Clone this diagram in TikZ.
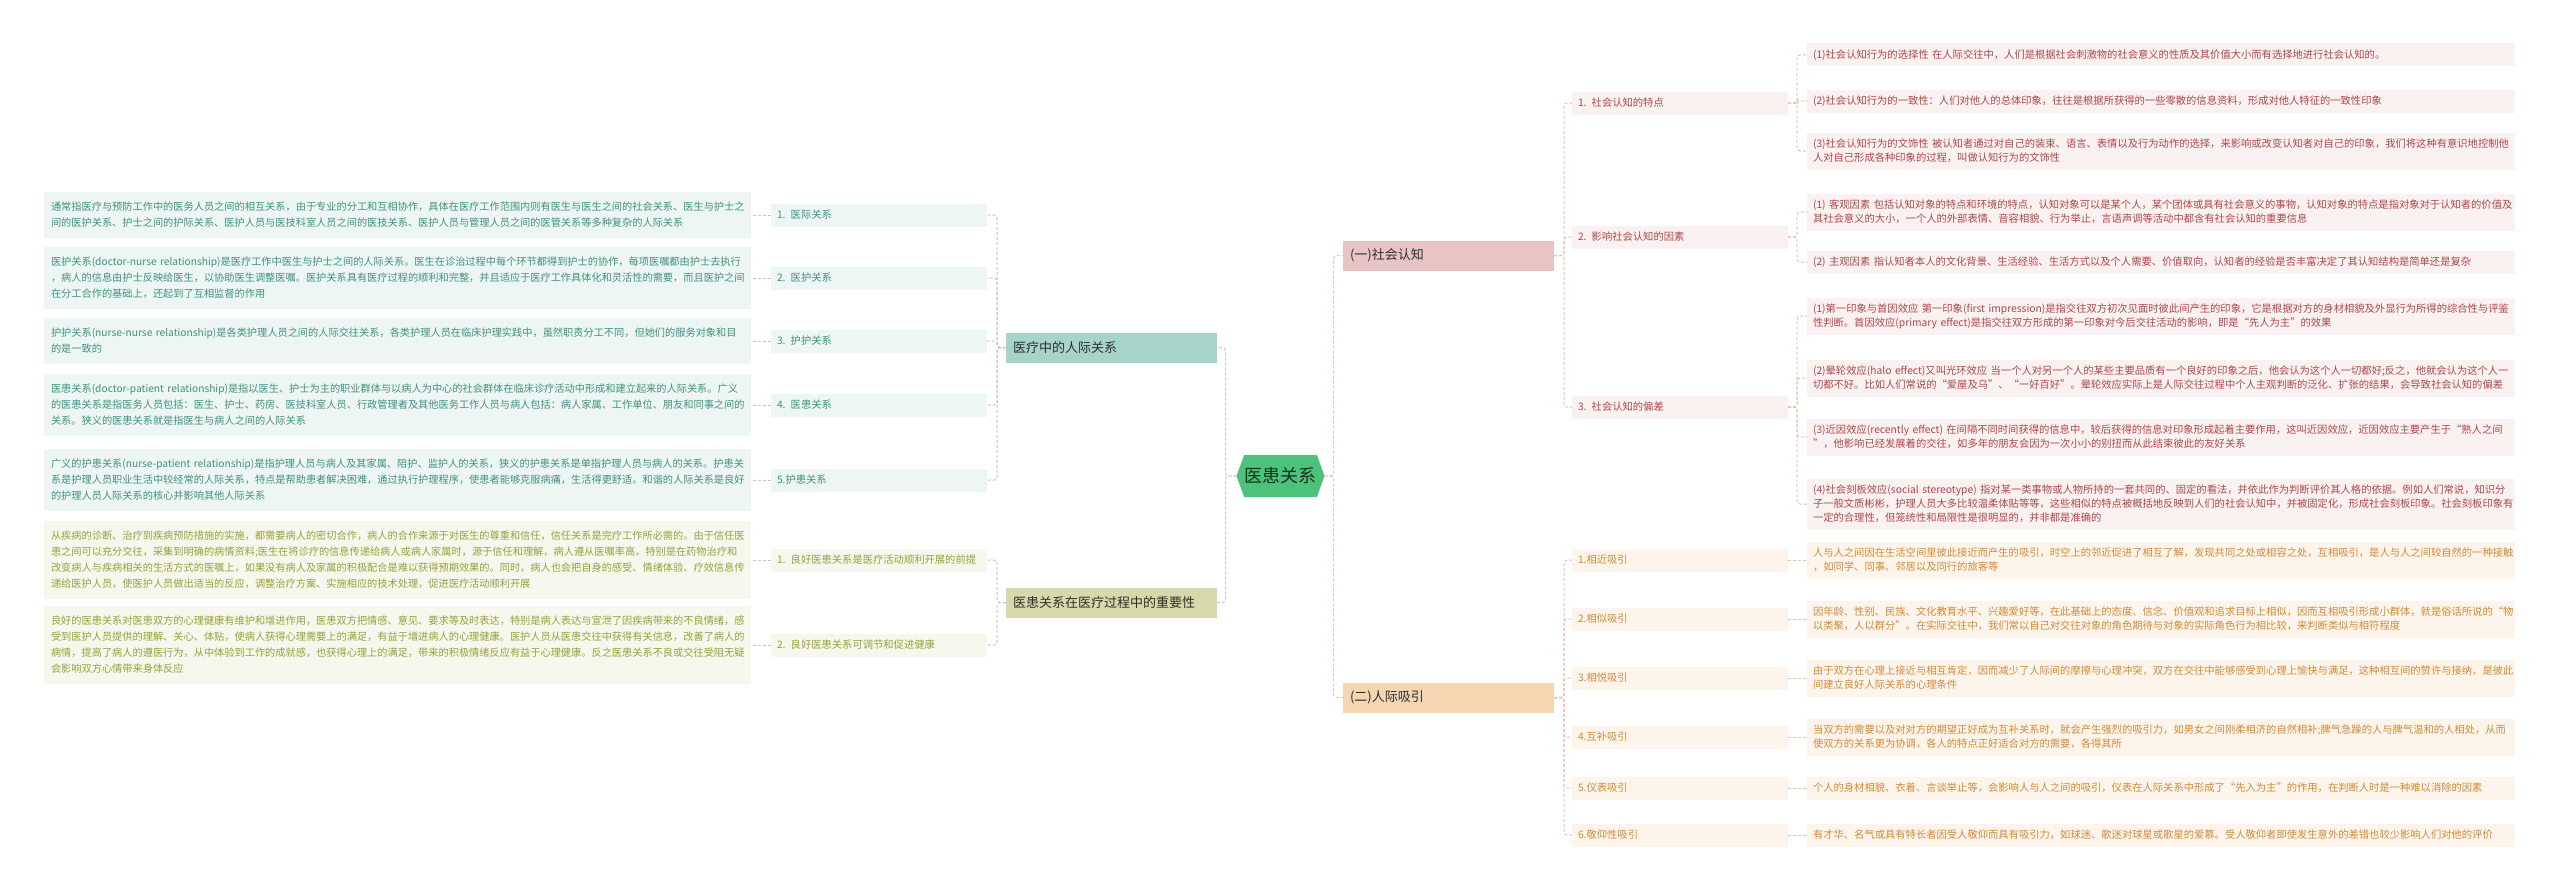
\documentclass[tikz,border=0pt]{standalone}
\usepackage{fontspec}
\setmainfont{Noto Sans CJK SC}
\usetikzlibrary{shapes.symbols}
\definecolor{tealfill}{HTML}{A7D4C9}
\definecolor{tealbg}{HTML}{EEF6F4}
\definecolor{tealtx}{HTML}{3F9080}
\definecolor{olivefill}{HTML}{D6D9AA}
\definecolor{olivebg}{HTML}{F6F7ED}
\definecolor{olivetx}{HTML}{97A13A}
\definecolor{pinkfill}{HTML}{E8C4C4}
\definecolor{pinkbg}{HTML}{FAF1F1}
\definecolor{redtx}{HTML}{AE474C}
\definecolor{peachfill}{HTML}{F6D5B1}
\definecolor{peachbg}{HTML}{FDF5EC}
\definecolor{orangetx}{HTML}{D18A38}
\definecolor{rootfill}{HTML}{4CC27D}
\definecolor{roottx}{HTML}{17321F}
\definecolor{darktx}{HTML}{2E2E2E}
\definecolor{lline}{HTML}{C6C6C6}
\definecolor{rline}{HTML}{E6C2B4}
\tikzset{
  every node/.style={inner sep=0pt, outer sep=0pt},
  lbox/.style={font=\fontsize{10.2}{16}\selectfont, align=left, anchor=east, text width=693pt, inner xsep=7pt},
  rbox/.style={font=\fontsize{10.3}{14}\selectfont, align=left, anchor=west, text width=696pt, inner xsep=6pt},
  boxA/.style={lbox, fill=tealbg, text=tealtx},
  boxB/.style={lbox, fill=olivebg, text=olivetx},
  boxC/.style={rbox, fill=pinkbg, text=redtx},
  boxD/.style={rbox, fill=peachbg, text=orangetx},
  lvtwo/.style={font=\fontsize{10.3}{12}\selectfont, anchor=west, text width=204pt, inner xsep=6pt, align=left, minimum height=23pt},
  twoA/.style={lvtwo, fill=tealbg, text=tealtx},
  twoB/.style={lvtwo, fill=olivebg, text=olivetx},
  twoC/.style={lvtwo, fill=pinkbg, text=redtx},
  twoD/.style={lvtwo, fill=peachbg, text=orangetx},
  lvone/.style={font=\fontsize{13}{15}\selectfont, anchor=west, text width=197pt, inner xsep=7pt, align=left, minimum height=30pt, text=darktx},
  oneA/.style={lvone, fill=tealfill},
  oneB/.style={lvone, fill=olivefill},
  oneC/.style={lvone, fill=pinkfill},
  oneD/.style={lvone, fill=peachfill},
  rootnode/.style={shape=signal, signal to=east and west, signal pointer angle=140, minimum width=88pt, minimum height=42pt, fill=rootfill, text=roottx, font=\fontsize{18}{20}\selectfont},
  lconn/.style={draw=lline, line width=1pt, dash pattern=on 3pt off 2pt, rounded corners=3pt},
  rconn/.style={draw=rline, line width=1pt, dash pattern=on 3pt off 2pt, rounded corners=3pt}
}
\begin{document}
\begin{tikzpicture}[x=1pt,y=-1pt]
\useasboundingbox (0,0) rectangle (2560,891);
\fill[white] (0,0) rectangle (2560,891);

% root
\node[rootnode] (root) at (1280.5,476) {医患关系};

% left level 1
\node[oneA] (A) at (1006,347.5) {医疗中的人际关系};
\node[oneB] (B) at (1006,602.5) {医患关系在医疗过程中的重要性};

% left level 2
\node[twoA] (a1) at (771,215) {1. 医际关系};
\node[twoA] (a2) at (771,278) {2. 医护关系};
\node[twoA] (a3) at (771,341) {3. 护护关系};
\node[twoA] (a4) at (771,405) {4. 医患关系};
\node[twoA] (a5) at (771,480) {5.护患关系};
\node[twoB] (b1) at (771,560) {1. 良好医患关系是医疗活动顺利开展的前提};
\node[twoB] (b2) at (771,645) {2. 良好医患关系可调节和促进健康};

% left text boxes
\node[boxA, minimum height=46pt] (ta1) at (751,215) {\mbox{通常指医疗与预防工作中的医务人员之间的相互关系，由于专业的分工和互相协作，具体在医疗工作范围内则有医生与医生之间的社会关系、医生与护士之}\\\mbox{间的医护关系、护士之间的护际关系、医护人员与医技科室人员之间的医技关系、医护人员与管理人员之间的医管关系等多种复杂的人际关系}};
\node[boxA, minimum height=62pt] (ta2) at (751,278) {\mbox{医护关系(doctor-nurse relationship)是医疗工作中医生与护士之间的人际关系。医生在诊治过程中每个环节都得到护士的协作，每项医嘱都由护士去执行}\\\mbox{，病人的信息由护士反映给医生，以协助医生调整医嘱。医护关系具有医疗过程的顺利和完整，并且适应于医疗工作具体化和灵活性的需要，而且医护之间}\\\mbox{在分工合作的基础上，还起到了互相监督的作用}};
\node[boxA, minimum height=46pt] (ta3) at (751,341) {\mbox{护护关系(nurse-nurse relationship)是各类护理人员之间的人际交往关系，各类护理人员在临床护理实践中，虽然职责分工不同，但她们的服务对象和目}\\\mbox{的是一致的}};
\node[boxA, minimum height=62pt] (ta4) at (751,405) {\mbox{医患关系(doctor-patient relationship)是指以医生、护士为主的职业群体与以病人为中心的社会群体在临床诊疗活动中形成和建立起来的人际关系。广义}\\\mbox{的医患关系是指医务人员包括：医生、护士、药房、医技科室人员、行政管理者及其他医务工作人员与病人包括：病人家属、工作单位、朋友和同事之间的}\\\mbox{关系。狭义的医患关系就是指医生与病人之间的人际关系}};
\node[boxA, minimum height=62pt] (ta5) at (751,480) {\mbox{广义的护患关系(nurse-patient relationship)是指护理人员与病人及其家属、陪护、监护人的关系，狭义的护患关系是单指护理人员与病人的关系。护患关}\\\mbox{系是护理人员职业生活中较经常的人际关系，特点是帮助患者解决困难，通过执行护理程序，使患者能够克服病痛，生活得更舒适。和谐的人际关系是良好}\\\mbox{的护理人员人际关系的核心并影响其他人际关系}};
\node[boxB, minimum height=78pt] (tb1) at (751,560) {\mbox{从疾病的诊断、治疗到疾病预防措施的实施，都需要病人的密切合作，病人的合作来源于对医生的尊重和信任，信任关系是完疗工作所必需的。由于信任医}\\\mbox{患之间可以充分交往，采集到明确的病情资料;医生在将诊疗的信息传递给病人或病人家属时，源于信任和理解，病人遵从医嘱率高，特别是在药物治疗和}\\\mbox{改变病人与疾病相关的生活方式的医嘱上，如果没有病人及家属的积极配合是难以获得预期效果的。同时，病人也会把自身的感受、情绪体验、疗效信息传}\\\mbox{递给医护人员，使医护人员做出适当的反应，调整治疗方案、实施相应的技术处理，促进医疗活动顺利开展}};
\node[boxB, minimum height=78pt] (tb2) at (751,645) {\mbox{良好的医患关系对医患双方的心理健康有维护和增进作用，医患双方把情感、意见、要求等及时表达，特别是病人表达与宣泄了因疾病带来的不良情绪，感}\\\mbox{受到医护人员提供的理解、关心、体贴，使病人获得心理需要上的满足，有益于增进病人的心理健康。医护人员从医患交往中获得有关信息，改善了病人的}\\\mbox{病情，提高了病人的遵医行为，从中体验到工作的成就感，也获得心理上的满足，带来的积极情绪反应有益于心理健康。反之医患关系不良或交往受阻无疑}\\\mbox{会影响双方心情带来身体反应}};

% right level 1
\node[oneC] (C) at (1343,255.5) {(一)社会认知};
\node[oneD] (D) at (1343,697.5) {(二)人际吸引};

% right level 2
\node[twoC] (c1) at (1572,103) {1. 社会认知的特点};
\node[twoC] (c2) at (1572,237) {2. 影响社会认知的因素};
\node[twoC] (c3) at (1572,407) {3. 社会认知的偏差};
\node[twoD] (d1) at (1572,560) {1.相近吸引};
\node[twoD] (d2) at (1572,619) {2.相似吸引};
\node[twoD] (d3) at (1572,678) {3.相悦吸引};
\node[twoD] (d4) at (1572,737) {4.互补吸引};
\node[twoD] (d5) at (1572,788) {5.仪表吸引};
\node[twoD] (d6) at (1572,835) {6.敬仰性吸引};

% right text boxes
\node[boxC, minimum height=23pt] (tc1a) at (1807,55) {\mbox{(1)社会认知行为的选择性 在人际交往中，人们是根据社会刺激物的社会意义的性质及其价值大小而有选择地进行社会认知的。}};
\node[boxC, minimum height=23pt] (tc1b) at (1807,101) {\mbox{(2)社会认知行为的一致性：人们对他人的总体印象，往往是根据所获得的一些零散的信息资料，形成对他人特征的一致性印象}};
\node[boxC, minimum height=37pt] (tc1c) at (1807,151) {\mbox{(3)社会认知行为的文饰性 被认知者通过对自己的装束、语言、表情以及行为动作的选择，来影响或改变认知者对自己的印象，我们将这种有意识地控制他}\\\mbox{人对自己形成各种印象的过程，叫做认知行为的文饰性}};
\node[boxC, minimum height=37pt] (tc2a) at (1807,212) {\mbox{(1) 客观因素 包括认知对象的特点和环境的特点，认知对象可以是某个人，某个团体或具有社会意义的事物，认知对象的特点是指对象对于认知者的价值及}\\\mbox{其社会意义的大小，一个人的外部表情、音容相貌、行为举止，言语声调等活动中都含有社会认知的重要信息}};
\node[boxC, minimum height=23pt] (tc2b) at (1807,262) {\mbox{(2) 主观因素 指认知者本人的文化背景、生活经验、生活方式以及个人需要、价值取向，认知者的经验是否丰富决定了其认知结构是简单还是复杂}};
\node[boxC, minimum height=37pt] (tc3a) at (1807,316) {\mbox{(1)第一印象与首因效应 第一印象(first impression)是指交往双方初次见面时彼此间产生的印象，它是根据对方的身材相貌及外显行为所得的综合性与评鉴}\\\mbox{性判断。首因效应(primary effect)是指交往双方形成的第一印象对今后交往活动的影响，即是“先人为主”的效果}};
\node[boxC, minimum height=37pt] (tc3b) at (1807,378) {\mbox{(2)晕轮效应(halo effect)又叫光环效应 当一个人对另一个人的某些主要品质有一个良好的印象之后，他会认为这个人一切都好;反之，他就会认为这个人一}\\\mbox{切都不好。比如人们常说的“爱屋及乌”、“一好百好”。晕轮效应实际上是人际交往过程中个人主观判断的泛化、扩张的结果，会导致社会认知的偏差}};
\node[boxC, minimum height=37pt] (tc3c) at (1807,437) {\mbox{(3)近因效应(recently effect) 在间隔不同时间获得的信息中，较后获得的信息对印象形成起着主要作用，这叫近因效应，近因效应主要产生于“熟人之间}\\\mbox{”，他影响已经发展着的交往，如多年的朋友会因为一次小小的别扭而从此结束彼此的友好关系}};
\node[boxC, minimum height=51pt] (tc3d) at (1807,504) {\mbox{(4)社会刻板效应(social stereotype) 指对某一类事物或人物所持的一套共同的、固定的看法，并依此作为判断评价其人格的依据。例如人们常说，知识分}\\\mbox{子一般文质彬彬，护理人员大多比较温柔体贴等等，这些相似的特点被概括地反映到人们的社会认知中，并被固定化，形成社会刻板印象。社会刻板印象有}\\\mbox{一定的合理性，但笼统性和局限性是很明显的，并非都是准确的}};
\node[boxD, minimum height=37pt] (td1) at (1807,560) {\mbox{人与人之间因在生活空间里彼此接近而产生的吸引，时空上的邻近促进了相互了解，发现共同之处或相容之处，互相吸引，是人与人之间较自然的一种接触}\\\mbox{，如同学、同事、邻居以及同行的旅客等}};
\node[boxD, minimum height=37pt] (td2) at (1807,619) {\mbox{因年龄、性别、民族、文化教育水平、兴趣爱好等，在此基础上的态度、信念、价值观和追求目标上相似，因而互相吸引形成小群体，就是俗话所说的“物}\\\mbox{以类聚，人以群分”。在实际交往中，我们常以自己对交往对象的角色期待与对象的实际角色行为相比较，来判断类似与相符程度}};
\node[boxD, minimum height=37pt] (td3) at (1807,678) {\mbox{由于双方在心理上接近与相互肯定，因而减少了人际间的摩擦与心理冲突，双方在交往中能够感受到心理上愉快与满足，这种相互间的赞许与接纳，是彼此}\\\mbox{间建立良好人际关系的心理条件}};
\node[boxD, minimum height=37pt] (td4) at (1807,737) {\mbox{当双方的需要以及对对方的期望正好成为互补关系时，就会产生强烈的吸引力，如男女之间刚柔相济的自然相补;脾气急躁的人与脾气温和的人相处，从而}\\\mbox{使双方的关系更为协调，各人的特点正好适合对方的需要，各得其所}};
\node[boxD, minimum height=23pt] (td5) at (1807,788) {\mbox{个人的身材相貌、衣着、言谈举止等，会影响人与人之间的吸引，仪表在人际关系中形成了“先入为主”的作用，在判断人时是一种难以消除的因素}};
\node[boxD, minimum height=23pt] (td6) at (1807,835) {\mbox{有才华、名气或具有特长者因受人敬仰而具有吸引力，如球迷、歌迷对球星或歌星的爱慕。受人敬仰者即使发生意外的差错也较少影响人们对他的评价}};

% connectors left
\draw[lconn] (root.west) -- ++(-11,0) |- (A.east);
\draw[lconn] (root.west) -- ++(-11,0) |- (B.east);
\foreach \i in {1,...,5} {
  \draw[lconn] (A.west) -- ++(-9,0) |- (a\i.east);
  \draw[lconn] (a\i.west) -- (ta\i.east);
}
\foreach \i in {1,2} {
  \draw[lconn] (B.west) -- ++(-9,0) |- (b\i.east);
  \draw[lconn] (b\i.west) -- (tb\i.east);
}
% connectors right
\draw[rconn] (root.east) -- ++(9,0) |- (C.west);
\draw[rconn] (root.east) -- ++(9,0) |- (D.west);
\foreach \i in {1,2,3} \draw[rconn] (C.east) -- ++(10,0) |- (c\i.west);
\foreach \j in {a,b,c} \draw[rconn] (c1.east) -- ++(9,0) |- (tc1\j.west);
\foreach \j in {a,b} \draw[rconn] (c2.east) -- ++(9,0) |- (tc2\j.west);
\foreach \j in {a,b,c,d} \draw[rconn] (c3.east) -- ++(9,0) |- (tc3\j.west);
\foreach \i in {1,...,6} {
  \draw[rconn] (D.east) -- ++(10,0) |- (d\i.west);
  \draw[rconn] (d\i.east) -- (td\i.west);
}
\end{tikzpicture}
\end{document}
